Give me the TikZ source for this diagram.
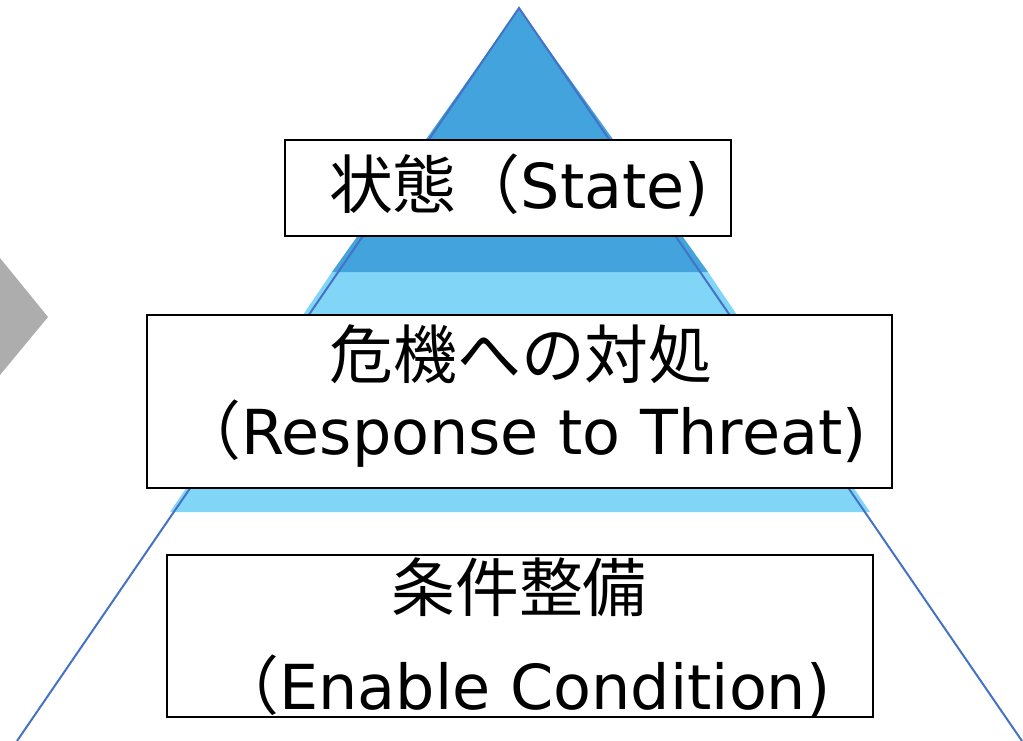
\documentclass[tikz,border=0pt]{standalone}
\usepackage{fontspec}
\setmainfont{DejaVu Sans}
\newfontfamily\cjk[Scale=1.03]{Noto Sans CJK JP}
\definecolor{tipblue}{HTML}{42A3DD}
\definecolor{midblue}{HTML}{81D6F8}
\definecolor{edgeblue}{HTML}{4472C4}
\definecolor{arrowgrey}{HTML}{ADADAD}

\begin{document}
\begin{tikzpicture}[x=1pt,y=-1pt,
  tierbox/.style={draw=black,line width=2pt,fill=white,inner sep=0pt},
  tiertext/.style={anchor=base,inner sep=0pt,font=\fontsize{62}{70}\selectfont}]
\useasboundingbox (0,0) rectangle (1023,741);
\coordinate (apex) at (519,8);
\coordinate (baseL) at (17,741);
\coordinate (baseR) at (1022,741);
\fill[arrowgrey] (0,258) -- (48,317) -- (0,375) -- cycle;
\fill[midblue] (332,272) -- (708,272) -- (870,512) -- (170,512) -- cycle;
\fill[tipblue] (apex) -- (708,272) -- (332,272) -- cycle;
\draw[edgeblue,line width=2pt] (baseL) -- (apex) -- (baseR);
\node[tierbox,minimum width=446pt,minimum height=96pt] at (508,188) (statebox) {};
\node[tierbox,minimum width=745pt,minimum height=173pt] at (519.5,401.5) (threatbox) {};
\node[tierbox,minimum width=706pt,minimum height=162pt] at (520,636) (enablebox) {};
\node[tiertext] at (519,208) (state) {{\cjk 状態（}State)};
\node[tiertext] at (521,378) (threat) {\cjk 危機への対処};
\node[tiertext] at (522,454) (threatsub) {{\cjk （}Response to Threat)};
\node[tiertext] at (519,611) (enable) {\cjk 条件整備};
\node[tiertext] at (523,709) (enablesub) {{\cjk （}Enable Condition)};
\end{tikzpicture}
\end{document}
